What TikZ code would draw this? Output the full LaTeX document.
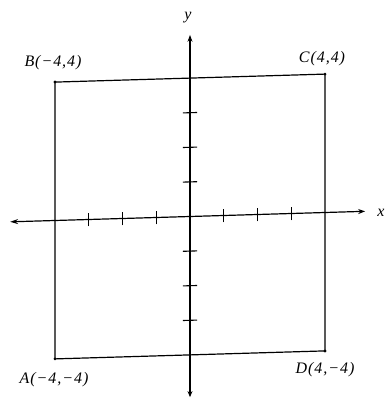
\documentclass[tikz,border=0pt]{standalone}
\usepackage{fontspec}
\setmainfont{Liberation Serif}
\usetikzlibrary{arrows.meta}
\begin{document}
\begin{tikzpicture}[x=1pt,y=1pt,
  axis/.style={line width=1.2pt},
  side/.style={line width=1.2pt},
  tick/.style={line width=1.1pt},
  lbl/.style={font=\fontsize{16}{18}\selectfont\itshape\addfontfeature{LetterSpace=6}, inner sep=0pt},
  vdot/.style={circle, fill=black, inner sep=0pt, minimum size=3.2pt}]
\useasboundingbox (0,0) rectangle (385,400);
\begin{scope}[shift={(190,183.5)}, x=33.75pt, y=34.6pt, yslant=0.0296]
  \coordinate (xl) at (-5.33,0);
  \coordinate (xr) at (5.19,0);
  \coordinate (yb) at (0,-5.22);
  \coordinate (yt) at (0,5.25);
  \coordinate (A) at (-4,-4);
  \coordinate (B) at (-4,4);
  \coordinate (C) at (4,4);
  \coordinate (D) at (4,-4);
  \draw[axis, -{Stealth[length=8pt,width=5pt,open]}] (0,0) -- (xl);
  \draw[axis, -{Stealth[length=7pt,width=5pt,open]}] (0,0) -- (xr);
  \draw[axis, -{Stealth[length=7pt,width=5pt]}] (0,0) -- (yt);
  \draw[axis, -{Stealth[length=6pt,width=5pt]}] (0,0) -- (yb);
  \draw[side] (A) -- (B) -- (C) -- (D) -- cycle;
  \foreach \i in {-3,-2,-1,1,2,3} {
    \draw[tick] (\i,-0.2) -- (\i,0.2);
    \draw[tick] (-0.21,\i) -- (0.21,\i);
  }
  \node[vdot] (dA) at (A) {};
  \node[vdot] (dB) at (B) {};
  \node[vdot] (dC) at (C) {};
  \node[vdot] (dD) at (D) {};
\end{scope}
\node[lbl] (ly) at (188,382) {y};
\node[lbl] (lx) at (381,187) {x};
\node[lbl] (lB) at (53,337) {B(−4,4)};
\node[lbl] (lC) at (322,341) {C(4,4)};
\node[lbl] (lA) at (54,20) {A(−4,−4)};
\node[lbl] (lD) at (325,30) {D(4,−4)};
\end{tikzpicture}
\end{document}
